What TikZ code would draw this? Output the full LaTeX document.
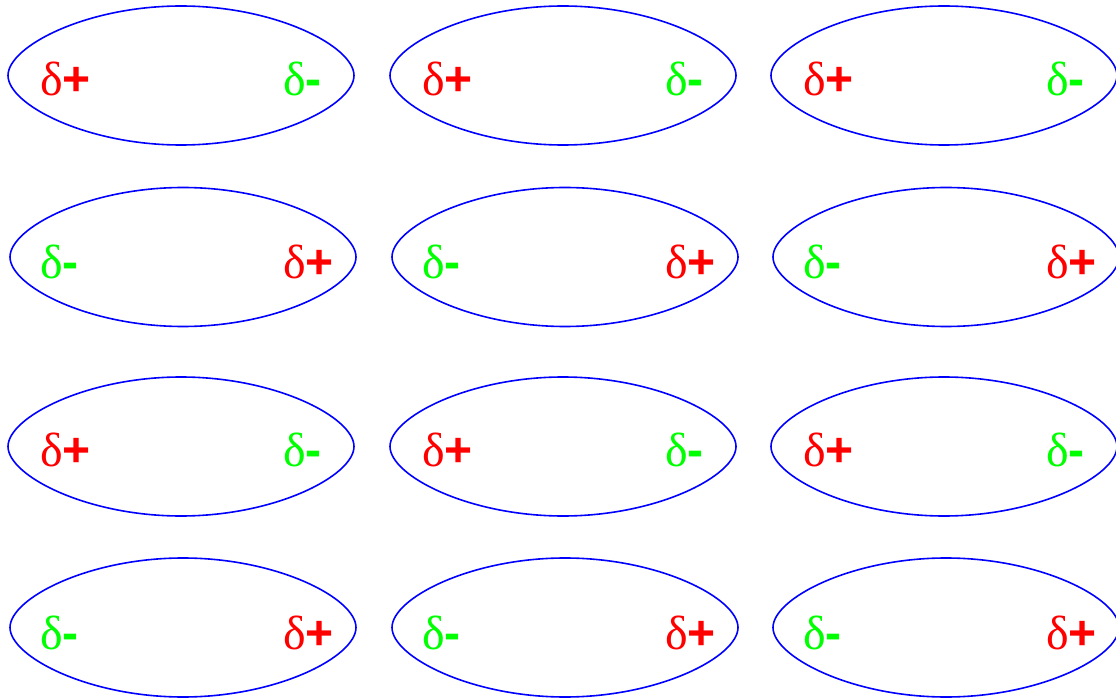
\documentclass[tikz,border=0pt]{standalone}
\usepackage{fontspec}
\setmainfont{Liberation Serif}
\newfontfamily\signfont{Liberation Sans}
\definecolor{molblue}{RGB}{0,0,255}
\definecolor{posred}{RGB}{255,0,0}
\definecolor{neggreen}{RGB}{0,255,0}
\tikzset{
  molline/.style={draw=molblue, line width=1.6pt},
  chargetext/.style={inner sep=0pt, anchor=base west, font=\fontsize{48}{48}\selectfont},
  poscharge/.style={chargetext, text=posred},
  negcharge/.style={chargetext, text=neggreen}
}
\newcommand\molshape[2]{%
  \draw[molline] (#1-173,#2) .. controls +(0,-29) and +(-95,0) .. (#1,#2-69.5)
    .. controls +(95,0) and +(0,-29) .. (#1+173,#2)
    .. controls +(0,29) and +(95,0) .. (#1,#2+69.5)
    .. controls +(-95,0) and +(0,29) .. (#1-173,#2) -- cycle;}
\newcommand\molA[3]{% cx cy name : delta+ left, delta- right
  \molshape{#1}{#2}
  \node[poscharge] (p#3) at (#1-141,#2+20) {δ{\signfont\bfseries +}};
  \node[negcharge] (n#3) at (#1+102,#2+20) {δ{\signfont\bfseries -}};}
\newcommand\molB[3]{% cx cy name : delta- left, delta+ right
  \molshape{#1}{#2}
  \node[negcharge] (n#3) at (#1-143,#2+22) {δ{\signfont\bfseries -}};
  \node[poscharge] (p#3) at (#1+100,#2+22) {δ{\signfont\bfseries +}};}
\begin{document}
\begin{tikzpicture}[x=1pt,y=-1pt]
\useasboundingbox (0,0) rectangle (1116,700);
\molA{181}{75.5}{11}
\molA{563}{75.5}{12}
\molA{944}{75.5}{13}
\molB{183}{257}{21}
\molB{565}{257}{22}
\molB{946}{257}{23}
\molA{181}{446.5}{31}
\molA{563}{446.5}{32}
\molA{944}{446.5}{33}
\molB{183}{627.5}{41}
\molB{565}{627.5}{42}
\molB{946}{627.5}{43}
\end{tikzpicture}
\end{document}
